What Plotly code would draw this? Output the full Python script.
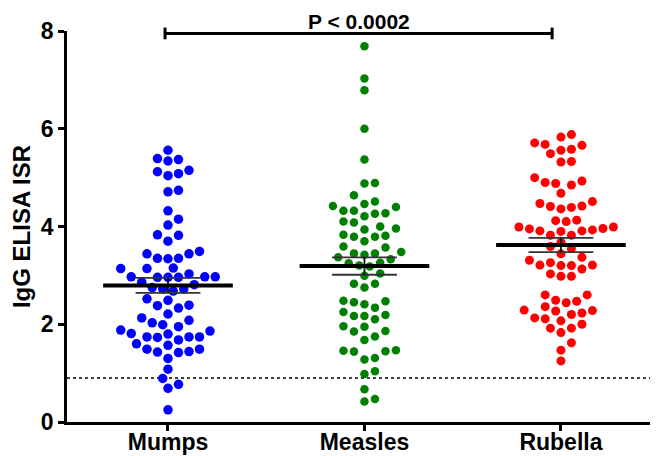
import numpy as np
import plotly.graph_objects as go

categories = ["Mumps", "Measles", "Rubella"]

mumps = [5.56, 5.37, 5.34, 5.39, 5.12, 5.04, 5.08, 5.15, 4.74, 4.71, 4.32, 4.15, 4.03,
         3.83, 3.70, 3.82, 3.44, 3.35, 3.35, 3.44, 3.49, 3.34, 3.15, 3.14, 3.14,
         2.97, 2.97, 2.96, 2.96, 2.96, 2.97, 3.03,
         2.81, 2.72, 2.68, 2.72, 2.75, 2.86, 2.49, 2.38, 2.33, 2.39, 2.52, 2.21,
         2.13, 2.08, 2.03, 1.99, 1.95, 1.88, 1.86, 1.81, 1.80, 1.74, 1.74, 1.68, 1.73, 1.74,
         1.57, 1.60, 1.49, 1.44, 1.42, 1.43, 1.49, 1.30, 1.08, 0.89, 0.77, 0.69, 0.25]

measles = [7.69, 7.03, 6.79, 6.00, 5.37, 4.88, 4.89, 4.64, 4.51, 4.46, 4.42, 4.40,
           4.32, 4.27, 4.32, 4.26, 4.21, 4.10, 4.08, 4.00, 3.96, 3.94,
           3.83, 3.79, 3.70, 3.79, 3.81, 3.57, 3.59, 3.42, 3.45, 3.45, 3.48, 3.37,
           3.33, 3.25, 3.26, 3.20, 3.18, 3.04, 2.99, 2.83, 2.75, 2.83,
           2.48, 2.45, 2.41, 2.47, 2.34, 2.25, 2.19, 2.17, 2.10, 2.17,
           1.96, 1.95, 1.85, 1.86, 1.68, 1.75, 1.47, 1.45, 1.44, 1.46,
           1.31, 1.28, 0.98, 1.04, 0.67, 0.42, 0.47]

rubella = [5.88, 5.83, 5.71, 5.66, 5.68, 5.56, 5.49, 5.58, 5.33, 5.32,
           5.00, 4.85, 4.90, 4.88, 4.93, 4.68, 4.47, 4.41, 4.36, 4.39, 4.42, 4.51,
           4.13, 4.12, 4.10, 3.99, 3.95, 3.91, 3.90, 3.91, 3.93, 3.96, 3.99,
           3.82, 3.82, 3.68, 3.59, 3.55, 3.44,
           3.37, 3.31, 3.26, 3.21, 3.20, 3.20, 3.21, 3.13, 3.03, 2.98, 2.98,
           2.60, 2.60, 2.49, 2.44, 2.47, 2.36,
           2.27, 2.29, 2.23, 2.28, 2.20, 2.13, 2.11, 2.07, 2.00,
           1.92, 1.92, 1.83, 1.62, 1.47, 1.25]

series = [mumps, measles, rubella]
colors = ["#0000FF", "#008000", "#FF0000"]
marker_sizes = [9.5, 8.5, 9]

cutoff = 0.9
p_text = "P < 0.0002"

# layout geometry (page body has an 8px default margin)
BODY = 8
W, H = 658 - BODY, 456 - BODY
ML, MR, MT, MB = 67 - BODY, 0, 31 - BODY, 34
x_range = [-0.514, 2.494]
y_range = [0, 8]
px_x = (W - ML - MR) / (x_range[1] - x_range[0])
px_y = (H - MT - MB) / (y_range[1] - y_range[0])


def swarm_offsets(vals, step_px=10.5, diam_px=10.3):
    vals = np.asarray(vals, dtype=float)
    order = np.argsort(vals)
    placed = []
    offs = np.zeros(len(vals))
    cands = [0.0]
    for k in range(1, 60):
        cands += [k * step_px / 2, -k * step_px / 2]
    for i in order:
        yp = vals[i] * px_y
        for c in cands:
            if all((c - a) ** 2 + (yp - b) ** 2 >= diam_px ** 2 for a, b in placed):
                break
        placed.append((c, yp))
        offs[i] = c
    return offs / px_x


fig = go.Figure()

# cutoff dotted line
fig.add_shape(type="line", xref="x domain", yref="y", x0=0, x1=1, y0=cutoff, y1=cutoff,
              line=dict(color="black", width=1.6, dash="dot"), layer="below")

for i, (vals, col, ms) in enumerate(zip(series, colors, marker_sizes)):
    offs = swarm_offsets(vals)
    fig.add_trace(go.Scatter(x=i + offs, y=vals, mode="markers",
                             marker=dict(color=col, size=ms, line=dict(width=0)),
                             showlegend=False, hoverinfo="y"))

for i, vals in enumerate(series):
    v = np.asarray(vals)
    m = v.mean()
    sem = v.std(ddof=1) / np.sqrt(len(v))
    for yy in (m - sem, m + sem):
        fig.add_trace(go.Scatter(x=[i - 0.165, i + 0.165], y=[yy, yy], mode="lines",
                                 line=dict(color="#333333", width=1.8),
                                 showlegend=False, hoverinfo="skip"))
    fig.add_trace(go.Scatter(x=[i, i], y=[m - sem, m + sem], mode="lines",
                             line=dict(color="#111111", width=1.8),
                             showlegend=False, hoverinfo="skip"))
    fig.add_trace(go.Scatter(x=[i - 0.33, i + 0.33], y=[m, m], mode="lines",
                             line=dict(color="black", width=4),
                             showlegend=False, hoverinfo="skip"))


def xd(v):
    return (v - x_range[0]) / (x_range[1] - x_range[0])


def yd(v):
    return (v - y_range[0]) / (y_range[1] - y_range[0])


bx0, bx1, by = -0.015, 1.955, 7.95
fig.add_shape(type="line", xref="x domain", yref="y domain", x0=xd(bx0), x1=xd(bx1),
              y0=yd(by), y1=yd(by), line=dict(color="black", width=3))
for bx in (bx0, bx1):
    fig.add_shape(type="line", xref="x domain", yref="y domain", x0=xd(bx), x1=xd(bx),
                  y0=yd(by - 0.12), y1=yd(by + 0.12), line=dict(color="black", width=3))
fig.add_annotation(x=xd((bx0 + bx1) / 2), y=yd(by), xref="x domain", yref="y domain",
                   text=p_text, showarrow=False, yanchor="bottom", yshift=-2,
                   font=dict(family="Arial, Liberation Sans", size=21, color="black", weight="bold"))

axfont = dict(family="Arial, Liberation Sans", size=23, color="black", weight="bold")
fig.update_layout(
    width=W, height=H,
    margin=dict(l=ML, r=MR, t=MT, b=MB, autoexpand=False),
    plot_bgcolor="white", paper_bgcolor="white",
    font=axfont,
    xaxis=dict(range=x_range, tickmode="array", tickvals=[0, 1, 2], ticktext=categories,
               showline=True, linecolor="black", linewidth=2.5, ticks="outside",
               ticklen=6, tickwidth=2.5, tickcolor="black", showgrid=False, zeroline=False,
               tickfont=axfont, ticklabelstandoff=-8),
    yaxis=dict(range=y_range, tickmode="array", tickvals=[0, 2, 4, 6, 8],
               showline=True, linecolor="black", linewidth=2.5, ticks="outside",
               ticklen=6, tickwidth=2.5, tickcolor="black", showgrid=False, zeroline=False,
               tickfont=axfont,
               title=dict(text="IgG ELISA ISR", standoff=8,
                          font=dict(family="Arial, Liberation Sans", size=24, color="black", weight="bold"))),
)

fig.write_html("out.html")
